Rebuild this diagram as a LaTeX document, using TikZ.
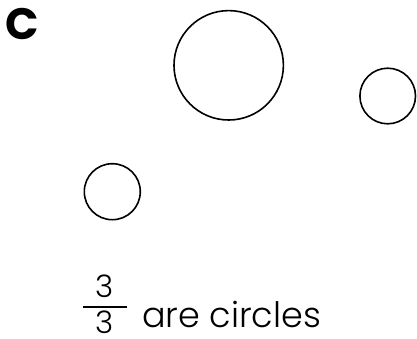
\documentclass[tikz,border=0pt]{standalone}
\usepackage{fontspec}
\setmainfont{Poppins}
\newfontfamily\lightfont{Poppins}[UprightFont=* Light]
\usetikzlibrary{positioning}

\begin{document}
\begin{tikzpicture}[x=1pt, y=-1pt,
  ring/.style={draw, circle, line width=1.6pt, inner sep=0pt},
  lbl/.style={inner sep=0pt, font=\fontsize{35}{38}\selectfont\lightfont},
  digit/.style={inner sep=0pt, anchor=base, font=\fontsize{31}{34}\selectfont\lightfont}
]
\useasboundingbox (0,0) rectangle (417,338);
\node[anchor=base west, inner sep=0pt, font=\fontsize{44}{46}\selectfont\bfseries] (letter) at (5,39) {C};
\node[ring, minimum size=109.4pt] (big) at (228.7,65.3) {};
\node[ring, minimum size=55.6pt] (right) at (387.7,96) {};
\node[ring, minimum size=56pt] (lower) at (112.3,191.7) {};
% fraction and caption
\node[digit] (num) at (105,297) {3};
\node[digit] (den) at (105,333) {3};
\draw[line width=1.5pt] (83,307) -- (127,307);
\node[lbl, anchor=base west] (caption) at (142,327) {are circles};
\end{tikzpicture}
\end{document}
